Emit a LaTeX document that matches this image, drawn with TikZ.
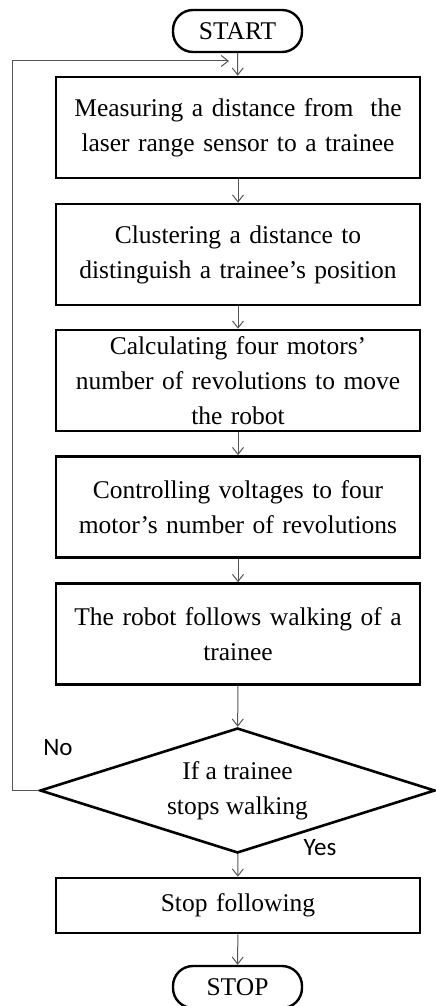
\documentclass[tikz,border=0pt]{standalone}
\usepackage{fontspec}
\setmainfont{Liberation Serif}
\newfontfamily\yesnofont{Carlito}
\usepackage{tikz}
\usetikzlibrary{shapes,arrows.meta,positioning,calc}
\definecolor{linegray}{RGB}{85,85,85}

\begin{document}
\begin{tikzpicture}[
    x=1pt, y=-1pt,
    every node/.style={font=\fontsize{25.5}{35}\selectfont},
    process/.style={draw, line width=2.6pt, minimum width=364pt, minimum height=101pt,
        inner sep=0pt, text width=360pt, align=center},
    terminal/.style={draw, line width=2.4pt, rounded corners=20pt, minimum width=129pt,
        minimum height=42pt, inner sep=0pt},
    decision/.style={draw, diamond, aspect=3.16, line width=2.6pt, minimum width=395pt,
        minimum height=125pt, inner sep=0pt, align=center},
    flow/.style={draw=linegray, line width=1pt, -{Straight Barb[length=7pt,width=11pt]}},
    answer/.style={font=\yesnofont\fontsize{25}{28}\selectfont, inner sep=0pt},
]
    \useasboundingbox (0,0) rectangle (436,1006);
    \node[terminal] (start) at (237.5,31) {START};
    \node[process] (measure) at (238,127.5) {Measuring a distance from~ the\\laser range sensor to a trainee};
    \node[process] (cluster) at (238,254.5) {Clustering a distance to\\distinguish a trainee’s position};
    \node[process] (calc) at (238,380.5) {Calculating four motors’\\number of revolutions to move\\the robot};
    \node[process] (volt) at (238,507) {Controlling voltages to four\\motor’s number of revolutions};
    \node[process] (follow) at (238,634) {The robot follows walking of a\\trainee};
    \node[decision] (check) at (237.5,790.5) {If a trainee\\stops walking};
    \node[process, minimum height=55pt] (stopf) at (238,905.5) {Stop following};
    \node[terminal] (stop) at (237.5,987) {STOP};
    % Arrows
    \foreach \a/\b in {start/measure, measure/cluster, cluster/calc, calc/volt,
        volt/follow, follow/check, check/stopf, stopf/stop} {
        \draw[flow] (\a) -- (\b);
    }
    % Loop back
    \coordinate (back) at (229,61);
    \draw[flow] (check.west) -- ++(-26,0) |- (back);
    \node[answer] (no) at (58,748) {No};
    \node[answer] (yes) at (320,848) {Yes};
\end{tikzpicture}
\end{document}
